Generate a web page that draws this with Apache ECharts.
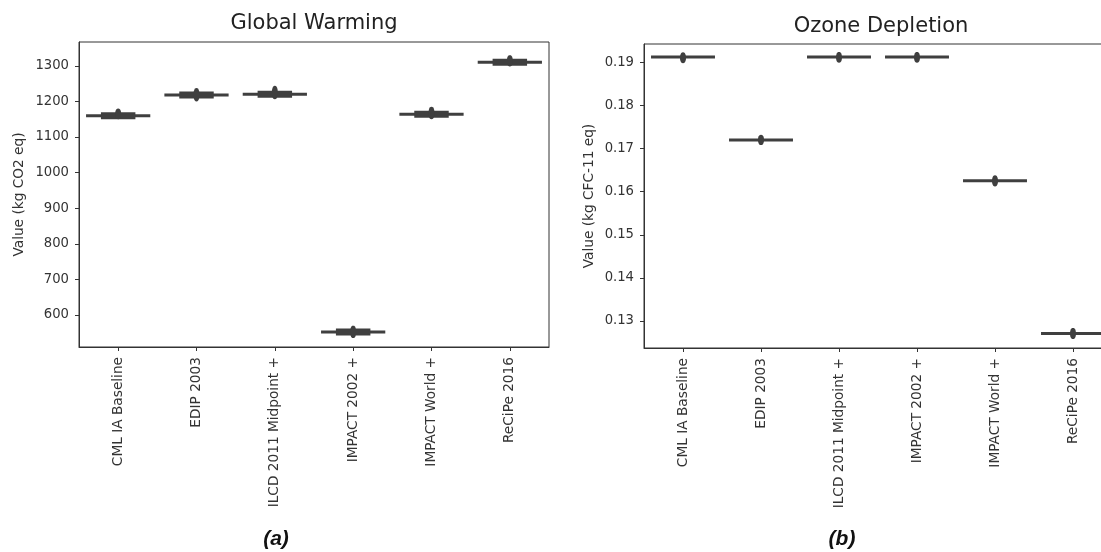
<!DOCTYPE html>
<html>
<head>
<meta charset="utf-8">
<script src="https://cdn.jsdelivr.net/npm/echarts@6/dist/echarts.min.js"></script>
<style>
  html, body { margin: 0; padding: 0; background: #fff; overflow: hidden; }
  /* the right panel runs past the window edge in the original, so the canvas is a bit wider */
  #chart { width: 1120px; height: 552px; }
</style>
</head>
<body>
<div id="chart"></div>
<script>
// methods on the x axis (same for both panels)
const methods = ['CML IA Baseline', 'EDIP 2003', 'ILCD 2011 Midpoint +', 'IMPACT 2002 +', 'IMPACT World +', 'ReCiPe 2016']

// Global warming (kg CO2 eq): centre, lower and upper end of the spread
const gwpMid = [1160, 1218, 1220, 552, 1164, 1310]
const gwpLow = [1150, 1200, 1206, 535, 1150, 1298]
const gwpHigh = [1180, 1238, 1244, 570, 1185, 1330]
const gwpTicks = [600, 700, 800, 900, 1000, 1100, 1200, 1300]

// Ozone depletion (kg CFC-11 eq)
const odpMid = [0.1912, 0.1720, 0.1912, 0.1912, 0.1625, 0.1271]
const odpLow = [0.1898, 0.1708, 0.1899, 0.1899, 0.1612, 0.1258]
const odpHigh = [0.1923, 0.1732, 0.1924, 0.1924, 0.1638, 0.1284]
const odpTicks = [0.13, 0.14, 0.15, 0.16, 0.17, 0.18, 0.19]

const ink = '#3f3f3f'
const axisColor = '#333'
const font = 'DejaVu Sans'

function toRows(mid, low, high) {
  return mid.map((v, i) => [i, v, low[i], high[i]])
}

// flattened violin: thin full-width line, a thicker middle part and the vertical blob
function makeRender(thickH, thickW) {
  return function (params, api) {
    const i = api.value(0)
    const c = api.coord([i, api.value(1)])
    const yLo = api.coord([i, api.value(2)])[1]
    const yHi = api.coord([i, api.value(3)])[1]
    const band = api.size([1, 0])[0]
    const half = band * 0.41
    const cy = (yLo + yHi) / 2
    const ry = Math.abs(yLo - yHi) / 2
    const pts = []
    for (let k = 0; k < 24; k++) {
      const t = (k / 24) * Math.PI * 2
      pts.push([c[0] + 3 * Math.sign(Math.cos(t)) * Math.pow(Math.abs(Math.cos(t)), 0.8), cy + ry * Math.sin(t)])
    }
    const children = [
      {
        type: 'line',
        shape: { x1: c[0] - half, y1: c[1], x2: c[0] + half, y2: c[1] },
        style: { stroke: ink, lineWidth: 3 }
      }
    ]
    if (thickH > 0) {
      children.push({
        type: 'rect',
        shape: { x: c[0] - band * thickW / 2, y: c[1] - thickH / 2, width: band * thickW, height: thickH },
        style: { fill: ink }
      })
    }
    children.push({ type: 'polygon', shape: { points: pts }, style: { fill: ink } })
    return { type: 'group', children: children }
  }
}

function xAxisFor(gridIndex) {
  return {
    type: 'category',
    gridIndex: gridIndex,
    data: methods,
    boundaryGap: true,
    axisLine: { show: true, lineStyle: { color: axisColor, width: 1 } },
    axisTick: { show: true, alignWithLabel: true, length: 4, lineStyle: { color: axisColor } },
    axisLabel: { rotate: 90, fontFamily: font, fontSize: 13.7, color: '#333', margin: 10, interval: 0 },
    splitLine: { show: false }
  }
}

function yAxisFor(gridIndex, min, max, ticks, name, gap, decimals) {
  return {
    type: 'value',
    gridIndex: gridIndex,
    min: min,
    max: max,
    name: name,
    nameLocation: 'middle',
    nameGap: gap,
    nameTextStyle: { fontFamily: font, fontSize: 13.7, color: '#333' },
    axisLine: { show: true, lineStyle: { color: axisColor, width: 1 } },
    axisTick: { show: true, length: 4, customValues: ticks, lineStyle: { color: axisColor } },
    axisLabel: {
      customValues: ticks,
      fontFamily: font,
      fontSize: 13.2,
      color: '#333',
      margin: 10,
      formatter: v => decimals ? v.toFixed(decimals) : String(v)
    },
    splitLine: { show: false }
  }
}

const chart = echarts.init(document.getElementById('chart'))

chart.setOption({
  animation: false,
  backgroundColor: '#fff',
  grid: [
    { left: 79, top: 42, width: 470, height: 305, show: true, borderColor: axisColor, borderWidth: 1 },
    { left: 644, top: 44, width: 468, height: 304, show: true, borderColor: axisColor, borderWidth: 1 }
  ],
  xAxis: [xAxisFor(0), xAxisFor(1)],
  yAxis: [
    yAxisFor(0, 510, 1367, gwpTicks, 'Value (kg CO2 eq)', 53, 0),
    yAxisFor(1, 0.12374, 0.19424, odpTicks, 'Value (kg CFC-11 eq)', 48, 2)
  ],
  graphic: [
    { type: 'text', x: 314, y: 24, style: { text: 'Global Warming', fontFamily: font, fontSize: 21, fill: '#222', align: 'center', verticalAlign: 'middle' } },
    { type: 'text', x: 881, y: 27, style: { text: 'Ozone Depletion', fontFamily: font, fontSize: 21, fill: '#222', align: 'center', verticalAlign: 'middle' } },
    { type: 'text', x: 276, y: 539, style: { text: '(a)', fontFamily: 'Liberation Sans', fontSize: 21, fontWeight: 'bold', fontStyle: 'italic', fill: '#111', align: 'center', verticalAlign: 'middle' } },
    { type: 'text', x: 842, y: 539, style: { text: '(b)', fontFamily: 'Liberation Sans', fontSize: 21, fontWeight: 'bold', fontStyle: 'italic', fill: '#111', align: 'center', verticalAlign: 'middle' } }
  ],
  series: [
    {
      type: 'custom',
      xAxisIndex: 0,
      yAxisIndex: 0,
      renderItem: makeRender(7, 0.44),
      encode: { x: 0, y: [1, 2, 3] },
      data: toRows(gwpMid, gwpLow, gwpHigh)
    },
    {
      type: 'custom',
      xAxisIndex: 1,
      yAxisIndex: 1,
      renderItem: makeRender(0, 0),
      encode: { x: 0, y: [1, 2, 3] },
      data: toRows(odpMid, odpLow, odpHigh)
    }
  ]
})
</script>
</body>
</html>
